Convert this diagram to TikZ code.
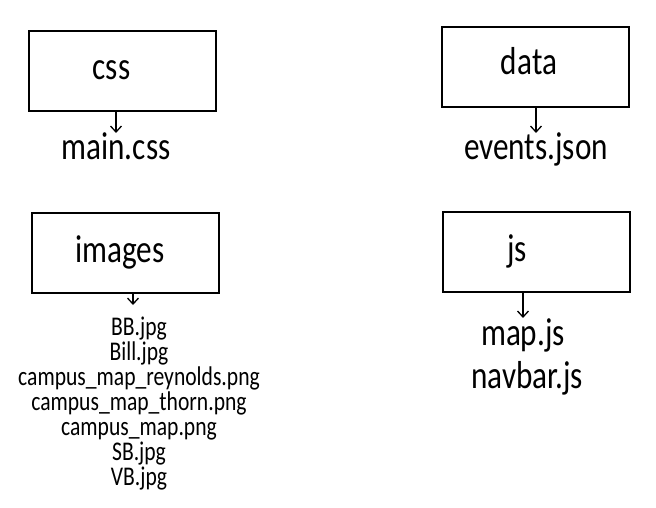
\documentclass[tikz,border=0pt]{standalone}
\usepackage{fontspec}
\setmainfont[FakeStretch=0.8]{Carlito}
\usetikzlibrary{arrows.meta}
\tikzset{
  dirbox/.style  = {draw, line width=2pt, minimum width=187pt,
                    minimum height=80pt, inner sep=0pt},
  dirname/.style = {font=\fontsize{39}{39}\selectfont, anchor=base, inner sep=0pt},
  fname/.style   = {dirname},
  flist/.style   = {font=\fontsize{27}{25}\selectfont, align=center,
                    anchor=north, inner xsep=0pt, inner ysep=12pt},
  flow/.style    = {-{Straight Barb[length=6pt, width=11pt]}, line width=1.3pt},
}
\begin{document}
\begin{tikzpicture}[x=1pt, y=-1pt]
        \useasboundingbox (0,0) rectangle (656,508);
        % top row
        \node[dirbox]  (css)     at (122.5,71) {};
        \node[dirname] (csslbl)  at (111.5,80) {css};
        \node[fname]   (maincss) at (116,160)  {main.css};
        \node[dirbox]  (data)    at (535,67)   {};
        \node[dirname] (datalbl) at (529,75)   {data};
        \node[fname]   (events)  at (536,160)  {events.json};
        % bottom row
        \node[dirbox]  (images)  at (125,253)  {};
        \node[dirname] (imglbl)  at (120,262)  {images};
        \node[flist]   (imglist) at (139,305)  {BB.jpg\\Bill.jpg\\campus\_map\_reynolds.png\\
                                               campus\_map\_thorn.png\\campus\_map.png\\SB.jpg\\VB.jpg};
        \node[dirbox]  (js)      at (536,252)  {};
        \node[dirname] (jslbl)   at (517,261)  {js};
        \node[fname]   (mapjs)   at (523,345)  {map.js};
        \node[fname]   (navbar)  at (527,388)  {navbar.js};
        \draw[flow] (css.south -| maincss)  -- (maincss.north);
        \draw[flow] (data.south -| events)  -- (events.north);
        \draw[flow] ([xshift=-6pt]images.south -| imglist.north) -- ([xshift=-6pt]imglist.north);
        \draw[flow] (js.south -| mapjs)     -- (mapjs.north);
    \end{tikzpicture}
\end{document}
